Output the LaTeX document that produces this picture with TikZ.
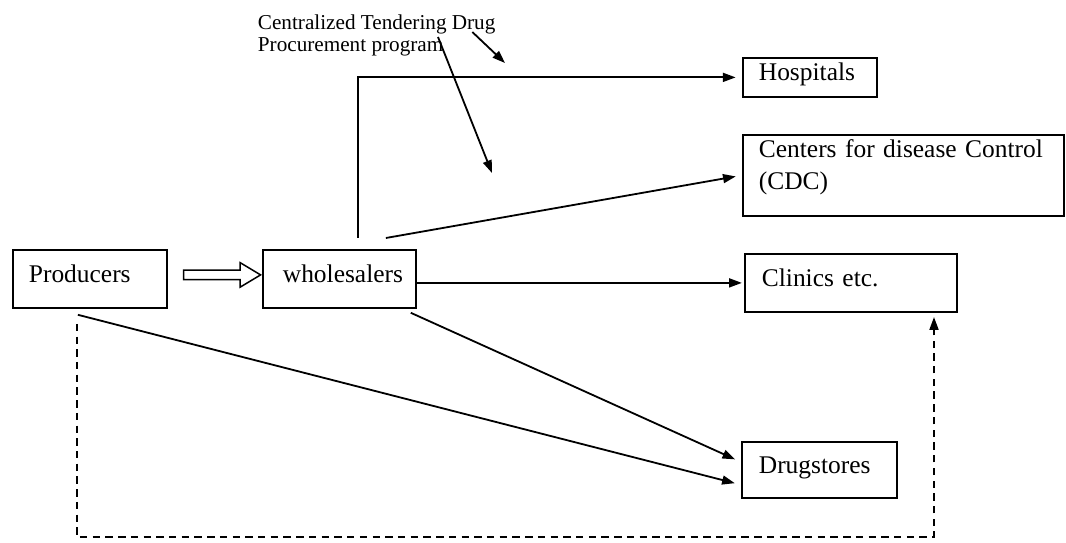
\documentclass[tikz,border=0pt]{standalone}
\usepackage{fontspec}
\setmainfont{Liberation Serif}
\usetikzlibrary{arrows.meta, shapes.arrows, calc}

\newdimen\pxu
\pxu=0.4717pt

\tikzset{
  box/.style = {draw, anchor=north west, align=left, text height=0.65em, text depth=0.33em},
  arr/.style = {-{Triangle[length=6pt, width=4.2pt]}},
}

\begin{document}
\begin{tikzpicture}[x=0.4717pt, y=-0.4717pt, line width=0.85pt, font=\fontsize{12}{15}\selectfont]
  \useasboundingbox (0,0) rectangle (1066,543);

  % boxes
  \node[box, minimum width=154\pxu, minimum height=58\pxu, text width=122\pxu, inner xsep=16\pxu] (prod) at (12,249) {Producers};
  \node[box, minimum width=153\pxu, minimum height=58\pxu, text width=113\pxu, inner xsep=20\pxu] (whole) at (262,249) {wholesalers};
  \node[box, minimum width=134\pxu, minimum height=39\pxu, text width=102\pxu, inner xsep=16\pxu] (hosp) at (742,57) {Hospitals};
  \node[box, text width=289\pxu, inner xsep=16\pxu, inner ysep=8\pxu, text height=0.7em, text depth=50\pxu] (cdc) at (742,134) {Centers for disease Control\\(CDC)};
  \node[box, minimum width=212\pxu, minimum height=58\pxu, text width=178\pxu, inner xsep=17\pxu] (clin) at (744,253) {Clinics etc.};
  \node[box, minimum width=155\pxu, minimum height=56\pxu, text width=121\pxu, inner xsep=17\pxu] (drug) at (741,441) {Drugstores};

  % program label
  \node[anchor=north west, inner sep=0pt, align=left, font=\fontsize{10}{10.4}\selectfont] (tender) at (257,13.5) {Centralized Tendering Drug\\Procurement program};
  \coordinate (pt1) at (505,63);
  \coordinate (pt2) at (492,173);
  \draw[arr] ($(tender.north east)+(-24,18.5)$) -- (pt1);
  \draw[arr] ($(tender.north west)+(181,23.5)$) -- (pt2);

  % producers to wholesalers
  \node[single arrow, draw, line width=0.7pt, inner sep=4\pxu, minimum width=0pt, minimum height=77\pxu,
        single arrow head extend=7.5\pxu, single arrow tip angle=62, anchor=tip] (flow) at ($(whole.west)+(0,-4)$) {};

  % distribution
  \draw[arr, shorten >=3pt] ($(whole.north)+(18.5,-11)$) |- (hosp.west);
  \draw[arr, shorten >=3pt] ($(whole.north)+(46.5,-11)$) -- (cdc.west);
  \draw[arr, shorten >=1pt] (whole.east |- clin.west) -- (clin.west);
  \draw[arr, shorten >=3pt] ($(whole.south east)+(-6,4)$) -- ($(drug.north west)+(0,21)$);
  \draw[arr, shorten >=3pt] ($(prod.south)+(-12,6)$) -- ($(drug.south west)+(0,-14)$);

  % direct supply
  \coordinate (ret) at (934,537);
  \draw[arr, dash pattern=on 3.5pt off 2.5pt, shorten >=2pt] ($(prod.south)+(-13,15)$) |- (ret) -- (ret |- clin.south);
\end{tikzpicture}
\end{document}
